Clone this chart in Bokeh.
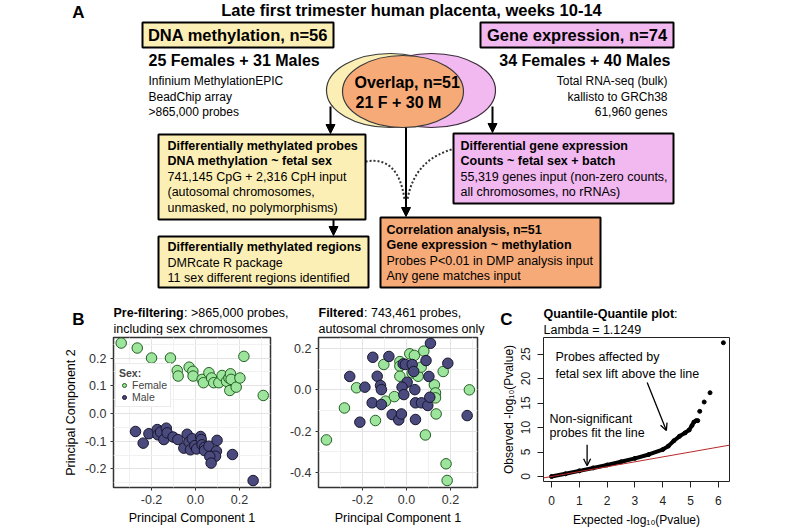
from bokeh.plotting import figure
from bokeh.layouts import column, row
from bokeh.models import (Range1d, FixedTicker, Arrow, NormalHead, OpenHead, Slope,
                          Legend, LegendItem, PrintfTickFormatter)
from bokeh.core.properties import value
from bokeh.embed import file_html
from bokeh.resources import INLINE

FONT = "Liberation Sans"

# ---------------- data ----------------
# Panel B, pre-filtering PCA
b1_female_pc1 = [-0.338, -0.265, -0.200, -0.114, -0.083, -0.079, -0.029, -0.012, -0.011, 0.030,
                 0.036, 0.061, 0.073, 0.083, 0.106, 0.121, 0.141, 0.152, 0.159, 0.162,
                 0.156, 0.185, 0.202, 0.220, 0.308]
b1_female_pc2 = [0.254, 0.236, 0.200, 0.200, 0.155, 0.135, 0.167, 0.152, 0.135, 0.123,
                 0.111, 0.147, 0.128, 0.111, 0.111, 0.137, 0.116, 0.128, 0.143, 0.123,
                 0.083, 0.095, 0.128, 0.206, 0.065]
b1_male_pc1 = [-0.273, -0.238, -0.212, -0.174, -0.171, -0.159, -0.144, -0.133, -0.129, -0.102,
               -0.080, -0.053, -0.038, -0.030, -0.023, -0.015, -0.003, 0.005, 0.023, 0.026,
               0.030, 0.041, 0.041, 0.061, 0.098, 0.095, 0.091, 0.065, 0.071, 0.168, 0.262]
b1_male_pc2 = [-0.065, -0.107, -0.073, -0.058, -0.077, -0.067, -0.094, -0.053, -0.070, -0.085,
               -0.094, -0.125, -0.075, -0.103, -0.131, -0.091, -0.116, -0.128, -0.083, -0.094,
               -0.113, -0.122, -0.134, -0.118, -0.097, -0.136, -0.154, -0.155, -0.179, -0.148, -0.242]

# Panel B, filtered PCA
b2_female_pc1 = [-0.364, -0.282, -0.227, -0.141, -0.103, -0.095, -0.055, -0.030, -0.030, -0.030,
                 0.015, 0.036, 0.026, 0.053, 0.067, 0.079, 0.127, 0.132, 0.132, 0.135,
                 0.167, 0.286, 0.086, 0.180, 0.185]
b2_female_pc2 = [-0.243, -0.088, 0.010, -0.149, 0.123, -0.055, -0.033, 0.137, 0.115, 0.066,
                 0.175, 0.167, 0.082, 0.066, 0.110, 0.188, 0.024, -0.015, -0.039, -0.117,
                 0.089, 0.000, -0.219, -0.359, -0.440]
b2_male_pc1 = [0.109, -0.153, -0.080, 0.089, 0.188, -0.258, -0.133, -0.189, -0.118, -0.114,
               -0.015, -0.005, 0.026, 0.033, 0.003, -0.020, -0.012, 0.038, 0.041, 0.068,
               0.097, 0.106, 0.102, -0.156, -0.114, -0.065, -0.035, -0.023, -0.212, 0.041, 0.276]
b2_male_pc2 = [0.226, 0.158, 0.162, 0.142, 0.129, 0.065, 0.066, 0.013, 0.021, 0.001,
               0.126, 0.123, 0.123, 0.089, 0.037, 0.013, -0.023, 0.001, -0.063, -0.063,
               -0.076, -0.036, 0.065, -0.063, -0.071, -0.120, -0.146, -0.117, -0.157, -0.144, -0.125]

b_x_ticks = [-0.2, 0.0, 0.2]
b_x_minor = [-0.3, -0.1, 0.1, 0.3]
b1_y_ticks = [-0.2, -0.1, 0.0, 0.1, 0.2]
b1_y_minor = [-0.25, -0.15, -0.05, 0.05, 0.15, 0.25]
b2_y_ticks = [-0.4, -0.2, 0.0, 0.2]
b2_y_minor = [-0.3, -0.1, 0.1]

# Panel C, QQ plot (read along the dense curve, then the isolated top points)
qq_expected = [0.0, 0.5, 1.0, 1.5, 2.0, 2.5, 3.0, 3.5, 4.0, 4.2, 4.4, 4.6, 4.8, 4.95, 5.05, 5.12, 5.2, 5.26]
qq_observed = [0.0, 0.55, 1.15, 1.75, 2.35, 3.0, 3.7, 4.5, 5.5, 6.2, 7.3, 8.2, 8.9, 9.5, 10.4, 11.1, 11.4, 11.4]
qq_top_expected = [5.33, 5.49, 5.70, 6.18]
qq_top_observed = [13.3, 15.2, 17.1, 27.3]
c_x_ticks = [0, 1, 2, 3, 4, 5, 6]
c_y_ticks = [0, 5, 10, 15, 20, 25]

YELLOW = "#fcefb6"
PINK = "#f2b8f0"
ORANGE = "#f6aa78"
F_FILL, F_LINE = "#9de49d", "#245f24"
M_FILL, M_LINE = "#4b4a7e", "#17162c"


def txt(fig, x, y, s, size, bold=False, align="left", color="black"):
    fig.text(x=[x], y=[y], text=[s], text_font=value(FONT), text_font_size=f"{size}px",
             text_font_style="bold" if bold else "normal", text_align=align,
             text_baseline="middle", text_color=color)


# ---------------- top diagram (pixel coordinates) ----------------
top = figure(width=800, height=335, x_range=Range1d(0, 800), y_range=Range1d(335, 0),
             output_backend="svg", toolbar_location=None, x_axis_type=None, y_axis_type=None,
             min_border=0, outline_line_color=None)
top.background_fill_color = "white"
top.border_fill_color = "white"

txt(top, 78, 12, "A", 17, bold=True, align="center")
txt(top, 411, 9, "Late first trimester human placenta, weeks 10-14", 16.5, bold=True, align="center")

# source boxes
top.quad(left=[142], right=[333], top=[22], bottom=[47], fill_color=YELLOW, line_color="black", line_width=2)
txt(top, 237.5, 34.5, "DNA methylation, n=56", 16.5, bold=True, align="center")
top.quad(left=[480], right=[673], top=[22], bottom=[47], fill_color=PINK, line_color="black", line_width=2)
txt(top, 576.5, 34.5, "Gene expression, n=74", 16.5, bold=True, align="center")

txt(top, 148, 60, "25 Females + 31 Males", 16, bold=True)
txt(top, 148, 80, "Infinium MethylationEPIC", 12)
txt(top, 148, 96, "BeadChip array", 12)
txt(top, 148, 111, ">865,000 probes", 12)

txt(top, 670, 60, "34 Females + 40 Males", 16, bold=True, align="right")
txt(top, 667, 80, "Total RNA-seq (bulk)", 12, align="right")
txt(top, 667, 96, "kallisto to GRCh38", 12, align="right")
txt(top, 667, 111, "61,960 genes", 12, align="right")

# Venn
top.ellipse(x=[390], y=[90], width=[128], height=[74], fill_color=YELLOW, line_color="#3a3a3a", line_width=1.2)
top.ellipse(x=[431], y=[90], width=[128], height=[74], fill_color=PINK, line_color="#3a2a3a", line_width=1.2)
top.ellipse(x=[402.5], y=[91], width=[121], height=[72], fill_color=ORANGE, line_color="#3a3a3a", line_width=1.2)
txt(top, 354, 82, "Overlap, n=51", 16, bold=True)
txt(top, 355, 102, "21 F + 30 M", 16, bold=True)

# connectors
top.line(x=[405.5, 405.5], y=[127, 205], line_color="black", line_width=2)


def arr(fig, x0, y0, x1, y1):
    fig.add_layout(Arrow(end=NormalHead(size=9, fill_color="black", line_color="black"),
                         x_start=x0, y_start=y0, x_end=x1, y_end=y1,
                         line_color="black", line_width=2))


arr(top, 330, 106, 330, 133)
arr(top, 492, 106, 492, 132)
arr(top, 405.5, 200, 405.5, 216)
arr(top, 333, 219, 333, 235)

top.quadratic(x0=[365], y0=[161], x1=[404], y1=[199], cx=[398], cy=[155],
              line_color="#333333", line_width=2, line_dash="2 2")
top.quadratic(x0=[455], y0=[148], x1=[407], y1=[199], cx=[414], cy=[158],
              line_color="#333333", line_width=2, line_dash="2 2")

# analysis boxes
top.quad(left=[158], right=[365], top=[134], bottom=[219], fill_color=YELLOW, line_color="black", line_width=2)
for i, (s, b) in enumerate([("Differentially methylated probes", True),
                            ("DNA methylation ~ fetal sex", True),
                            ("741,145 CpG + 2,316 CpH input", False),
                            ("(autosomal chromosomes,", False),
                            ("unmasked, no polymorphisms)", False)]):
    txt(top, 167, 145 + i * 15.5, s, 12.5, bold=b)

top.quad(left=[158], right=[368], top=[236], bottom=[287], fill_color=YELLOW, line_color="black", line_width=2)
for i, (s, b) in enumerate([("Differentially methylated regions", True),
                            ("DMRcate R package", False),
                            ("11 sex different regions identified", False)]):
    txt(top, 167, 246.5 + i * 15.5, s, 12.5, bold=b)

top.quad(left=[453], right=[673], top=[133], bottom=[203], fill_color=PINK, line_color="black", line_width=2)
for i, (s, b) in enumerate([("Differential gene expression", True),
                            ("Counts ~ fetal sex + batch", True),
                            ("55,319 genes input (non-zero counts,", False),
                            ("all chromosomes, no rRNAs)", False)]):
    txt(top, 460, 145 + i * 15.5, s, 12.5, bold=b)

top.quad(left=[380], right=[600], top=[217], bottom=[287], fill_color=ORANGE, line_color="black", line_width=2)
for i, (s, b) in enumerate([("Correlation analysis, n=51", True),
                            ("Gene expression ~ methylation", True),
                            ("Probes P<0.01 in DMP analysis input", False),
                            ("Any gene matches input", False)]):
    txt(top, 386, 229 + i * 15.5, s, 12.5, bold=b)

# panel titles
txt(top, 78, 319, "B", 17, bold=True, align="center")
txt(top, 113, 312, "Pre-filtering", 12.5, bold=True)
txt(top, 183.5, 312, ": >865,000 probes,", 12.5)
txt(top, 113, 328, "including sex chromosomes", 12.5)
txt(top, 318, 312, "Filtered", 12.5, bold=True)
txt(top, 363.5, 312, ": 743,461 probes,", 12.5)
txt(top, 318, 328, "autosomal chromosomes only", 12.5)
txt(top, 506, 319, "C", 17, bold=True, align="center")
txt(top, 543, 313, "Quantile-Quantile plot", 12.5, bold=True)
txt(top, 673.5, 313, ":", 12.5)
txt(top, 543, 329, "Lambda = 1.1249", 12.5)


# ---------------- panel B ----------------
def bfig(width, mbl, fw, mbr, xr, yr, yticks, yminor, ylabel):
    p = figure(width=width, height=195, frame_width=fw, frame_height=150,
               min_border_left=mbl, min_border_right=mbr, min_border_top=2, min_border_bottom=43,
               x_range=Range1d(*xr), y_range=Range1d(*yr),
               output_backend="svg", toolbar_location=None)
    p.background_fill_color = "white"
    p.border_fill_color = "white"
    p.outline_line_color = "#333333"
    p.outline_line_width = 1.5
    p.xaxis.ticker = FixedTicker(ticks=b_x_ticks, minor_ticks=b_x_minor)
    p.yaxis.ticker = FixedTicker(ticks=yticks, minor_ticks=yminor)
    for ax in (p.xaxis, p.yaxis):
        ax.formatter = PrintfTickFormatter(format="%.1f")
        ax.axis_line_color = None
        ax.major_tick_in = 0
        ax.major_tick_out = 3
        ax.major_tick_line_color = "#333333"
        ax.minor_tick_line_color = None
        ax.major_label_text_font = FONT
        ax.major_label_text_font_size = "12.5px"
        ax.major_label_text_color = "#333333"
        ax.major_label_standoff = 3
        ax.axis_label_text_font = FONT
        ax.axis_label_text_font_size = "12.5px"
        ax.axis_label_text_font_style = "normal"
        ax.axis_label_text_color = "black"
        ax.axis_label_standoff = 4
    p.xaxis.axis_label = "Principal Component 1"
    if ylabel:
        p.yaxis.axis_label = ylabel
    for g in (p.xgrid, p.ygrid):
        g.grid_line_color = "#e3e3e3"
        g.grid_line_width = 1
        g.minor_grid_line_color = "#f1f1f1"
        g.minor_grid_line_width = 1
    return p


b1 = bfig(280, 113, 157, 10, (-0.373, 0.341), (-0.267, 0.274), b1_y_ticks, b1_y_minor, "Principal Component 2")
rf = b1.scatter(b1_female_pc1, b1_female_pc2, size=10.5, fill_color=F_FILL, line_color=F_LINE, line_width=1)
rm = b1.scatter(b1_male_pc1, b1_male_pc2, size=10.5, fill_color=M_FILL, line_color=M_LINE, line_width=1)
leg = Legend(items=[LegendItem(label="Female", renderers=[rf]), LegendItem(label="Male", renderers=[rm])],
             title="Sex:", location=(2, 80), orientation="vertical")
leg.title_text_font = FONT
leg.title_text_font_size = "10.5px"
leg.title_text_font_style = "bold"
leg.title_standoff = 0
leg.label_text_font = FONT
leg.label_text_font_size = "10.5px"
leg.glyph_width = 10
leg.glyph_height = 10
leg.label_height = 10
leg.label_standoff = 3
leg.spacing = 0
leg.padding = 3
leg.margin = 0
leg.border_line_color = "#d8d8d8"
leg.background_fill_alpha = 1
b1.add_layout(leg)

b2 = bfig(215, 38, 159, 18, (-0.40, 0.323), (-0.474, 0.254), b2_y_ticks, b2_y_minor, None)
b2.scatter(b2_female_pc1, b2_female_pc2, size=10.5, fill_color=F_FILL, line_color=F_LINE, line_width=1)
b2.scatter(b2_male_pc1, b2_male_pc2, size=10.5, fill_color=M_FILL, line_color=M_LINE, line_width=1)

# ---------------- panel C ----------------
c = figure(width=305, height=195, frame_width=186, frame_height=144,
           min_border_left=48, min_border_right=71, min_border_top=2, min_border_bottom=49,
           x_range=Range1d(-0.288, 6.40), y_range=Range1d(-1.02, 28.37),
           output_backend="svg", toolbar_location=None)
c.background_fill_color = "white"
c.border_fill_color = "white"
c.outline_line_color = "#222222"
c.outline_line_width = 1
c.grid.visible = False
c.xaxis.ticker = FixedTicker(ticks=c_x_ticks)
c.yaxis.ticker = FixedTicker(ticks=c_y_ticks)
for ax in (c.xaxis, c.yaxis):
    ax.axis_line_color = None
    ax.major_tick_in = 0
    ax.major_tick_out = 6
    ax.major_tick_line_color = "#222222"
    ax.minor_tick_line_color = None
    ax.major_label_text_font = FONT
    ax.major_label_text_font_size = "12px"
    ax.major_label_text_color = "#222222"
    ax.axis_label_text_font = FONT
    ax.axis_label_text_font_size = "12px"
    ax.axis_label_text_font_style = "normal"
    ax.axis_label_text_color = "black"
c.xaxis.major_label_standoff = 8
c.xaxis.axis_label_standoff = 5
c.yaxis.major_label_orientation = "vertical"
c.yaxis.major_label_standoff = 7
c.yaxis.axis_label_standoff = 3
c.xaxis.axis_label = "Expected -log\u2081\u2080(Pvalue)"
c.yaxis.axis_label = "Observed -log\u2081\u2080(Pvalue)"

c.line(qq_expected, qq_observed, line_color="black", line_width=4)
c.scatter(qq_expected, qq_observed, size=4, fill_color="black", line_color="black")
c.scatter(qq_top_expected, qq_top_observed, size=4, fill_color="black", line_color="black")
c.add_layout(Slope(gradient=1, y_intercept=0, line_color="#b8282a", line_width=1))

for (x, y, s) in [(0.14, 24.3, "Probes affected by"), (0.14, 21.0, "fetal sex lift above the line"),
                  (-0.07, 11.8, "Non-significant"), (-0.07, 8.8, "probes fit the line")]:
    c.text(x=[x], y=[y], text=[s], text_font=value(FONT), text_font_size="12.5px",
           text_baseline="middle", text_align="left", text_color="black")
c.add_layout(Arrow(end=OpenHead(size=7, line_width=1.3, line_color="black"),
                   x_start=3.44, y_start=19.2, x_end=4.13, y_end=9.4, line_width=1.3))
c.add_layout(Arrow(end=OpenHead(size=7, line_width=1.3, line_color="black"),
                   x_start=1.28, y_start=6.5, x_end=1.28, y_end=2.2, line_width=1.3))

layout = column(top, row(b1, b2, c))
open("out.html", "w").write(file_html(layout, INLINE))
